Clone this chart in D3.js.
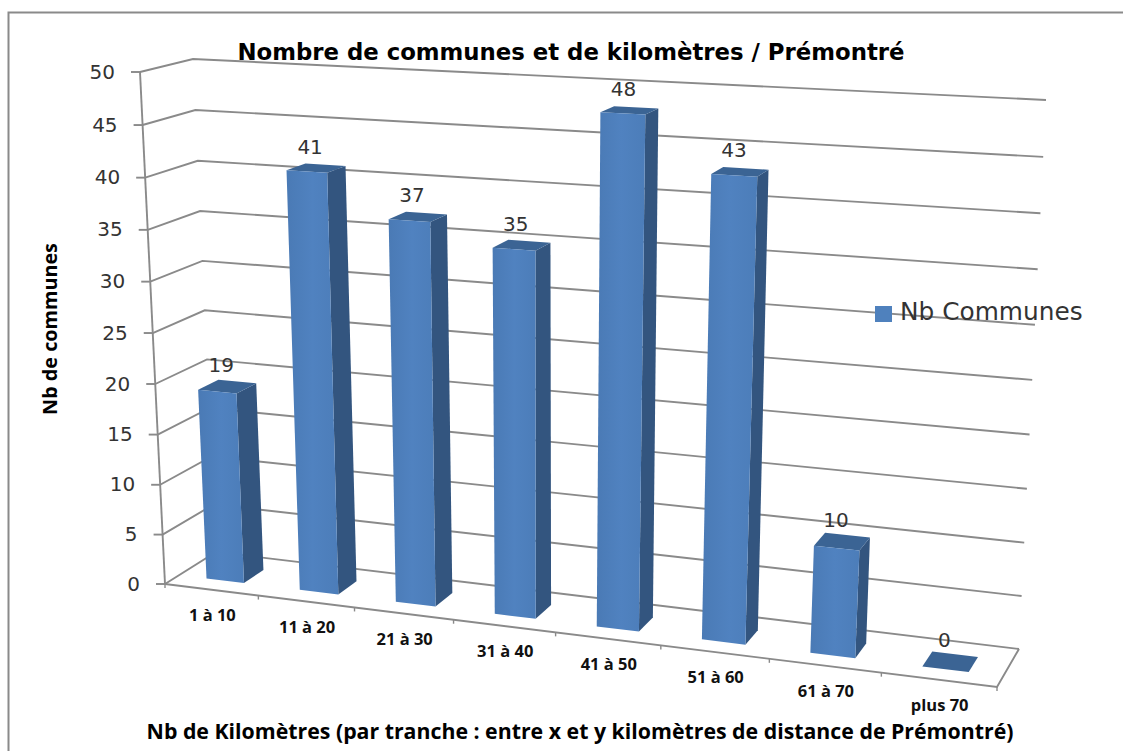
<!DOCTYPE html>
<html><head><meta charset="utf-8">
<script src="https://cdn.jsdelivr.net/npm/d3@7"></script>
<style>html,body{margin:0;padding:0;background:#fff;overflow:hidden}svg{display:block}</style>
</head><body><svg id="c" width="1123" height="751"></svg>
<script>
const categories = ["1 à 10","11 à 20","21 à 30","31 à 40","41 à 50","51 à 60","61 à 70","plus 70"];
const values = [19,41,37,35,48,43,10,0];
const valueTicks = [0,5,10,15,20,25,30,35,40,45,50];
const seriesName = "Nb Communes";
const chartTitle = "Nombre de communes et de kilomètres / Prémontré";
const yTitle = "Nb de communes";
const xTitle = "Nb de Kilomètres (par tranche : entre x et y kilomètres de distance de Prémontré)";

const svg = d3.select("#c");
const W = 1123, H = 751;
svg.append("rect").attr("width",W).attr("height",H).attr("fill","#fff");

// projected corners of the 3D box [x,y]; index: floor/top, front/back, left/right
const C = {
  FFL:[165,584], FFR:[997,687], FBL:[216,552], FBR:[1019,649],
  TFL:[140,72],  TFR:[1030,115], TBL:[193,59], TBR:[1046,100]
};
const warp = k => t => t/(t+k*(1-t));
const warpU = warp(1.13), warpV = warp(1.04);
const uScale = d3.scaleLinear().domain([0,categories.length]).range([0,1]);
const vScale = d3.scaleLinear().domain([0,50]).range([0,1]);
const band = d3.scaleBand().domain(categories).range([0,1]).paddingInner(0.595).paddingOuter(0.2975);
const lerp = (a,b,t)=>[a[0]+(b[0]-a[0])*t, a[1]+(b[1]-a[1])*t];
// u in 0..1 along categories, value in data units, w depth 0..1
function P(u,val,w){
  const f = warpU(u), g = warpV(vScale(val));
  const bottom = lerp(lerp(C.FFL,C.FFR,f), lerp(C.FBL,C.FBR,f), w);
  const top    = lerp(lerp(C.TFL,C.TFR,f), lerp(C.TBL,C.TBR,f), w);
  return lerp(bottom,top,g);
}
const line = d3.line();
const gray = "#8a8a8a";
const stroke = (g,pts,sw=1.9)=>g.append("path").attr("d",line(pts)).attr("fill","none").attr("stroke",gray).attr("stroke-width",sw);

// chart frame (left and top only are visible in the crop)
const frame = svg.append("g");
stroke(frame,[[8.5,H],[8.5,12.5],[W,12.5]],2);

// gridlines on side + back wall
const grid = svg.append("g");
valueTicks.forEach(v=>{
  stroke(grid,[P(0,v,0),P(0,v,1),P(1,v,1)]);
});
// floor
const axes = svg.append("g");
stroke(axes,[P(1,0,1),P(1,0,0),P(0,0,0)]);
// value axis + ticks
stroke(axes,[P(0,50,0),P(0,0,0)]);
valueTicks.forEach(v=>{ const p=P(0,v,0); stroke(axes,[[p[0]-9,p[1]],p]); });
// category ticks
d3.range(0,categories.length+1).forEach(i=>{ const p=P(uScale(i),0,0); stroke(axes,[p,[p[0],p[1]+4]],1.4); });

// value tick labels
svg.append("g").selectAll("text").data(valueTicks).join("text")
  .attr("x",d=>P(0,d,0)[0]-25).attr("y",d=>P(0,d,0)[1]+1)
  .attr("text-anchor","end").attr("dominant-baseline","middle")
  .attr("font-family","DejaVu Sans").attr("font-size",20).attr("fill","#333")
  .text(d=>d);

// bars
const wF=0.28, wB=0.68;
const gBars = svg.append("g");
const defs = svg.append("defs");
const gr = defs.append("linearGradient").attr("id","fr");
gr.append("stop").attr("offset","0").attr("stop-color","#4a7ab5");
gr.append("stop").attr("offset","0.5").attr("stop-color","#5082c0");
gr.append("stop").attr("offset","1").attr("stop-color","#4c7db9");
categories.forEach((c,i)=>{
  const u0=band(c), u1=u0+band.bandwidth(), v=values[i];
  const g=gBars.append("g");
  const poly=(pts,fill)=>g.append("path").attr("d",line(pts)+"Z").attr("fill",fill);
  if(v>0){
    poly([P(u1,0,wF),P(u1,0,wB),P(u1,v,wB),P(u1,v,wF)],"#33557f");
    poly([P(u0,v,wF),P(u1,v,wF),P(u1,v,wB),P(u0,v,wB)],"#3b6494");
    poly([P(u0,0,wF),P(u1,0,wF),P(u1,v,wF),P(u0,v,wF)],"url(#fr)");
  } else {
    poly([P(u0,0,wF),P(u1,0,wF),P(u1,0,wB),P(u0,0,wB)],"#3b6494");
  }
});
// data labels
svg.append("g").selectAll("text").data(categories).join("text")
  .attr("x",(c,i)=>P(band(c)+band.bandwidth()/2,values[i],(wF+wB)/2)[0]-6)
  .attr("y",(c,i)=>P(band(c)+band.bandwidth()/2,values[i],(wF+wB)/2)[1]-20)
  .attr("text-anchor","middle").attr("dominant-baseline","middle")
  .attr("font-family","DejaVu Sans").attr("font-size",20).attr("fill","#333")
  .text((c,i)=>values[i]);
// category labels
svg.append("g").selectAll("text").data(categories).join("text")
  .attr("x",c=>P(band(c)+band.bandwidth()/2,0,0)[0]+1)
  .attr("y",c=>P(band(c)+band.bandwidth()/2,0,0)[1]+27)
  .attr("text-anchor","middle").attr("dominant-baseline","middle")
  .attr("font-family","Open Sans").attr("font-weight",700).attr("font-size",16.5).attr("fill","#111")
  .text(c=>c);
// titles
svg.append("text").attr("x",571).attr("y",53).attr("text-anchor","middle").attr("dominant-baseline","middle")
  .attr("font-family","DejaVu Sans").attr("font-weight",700).attr("font-size",22.8).attr("fill","#000").text(chartTitle);
svg.append("text").attr("transform","translate(52,329) rotate(-90)").attr("text-anchor","middle").attr("dominant-baseline","middle")
  .attr("font-family","Open Sans").attr("font-weight",700).attr("font-size",19.8).attr("fill","#000").text(yTitle);
svg.append("text").attr("x",580).attr("y",733.5).attr("text-anchor","middle").attr("dominant-baseline","middle")
  .attr("font-family","Open Sans").attr("font-weight",700).attr("font-size",21.3).attr("fill","#000").text(xTitle);
// legend
svg.append("rect").attr("x",875).attr("y",306).attr("width",17).attr("height",16).attr("fill","#4f81bd");
svg.append("text").attr("x",900).attr("y",313).attr("dominant-baseline","middle")
  .attr("font-family","DejaVu Sans").attr("font-size",24.8).attr("fill","#333").text(seriesName);
</script></body></html>
